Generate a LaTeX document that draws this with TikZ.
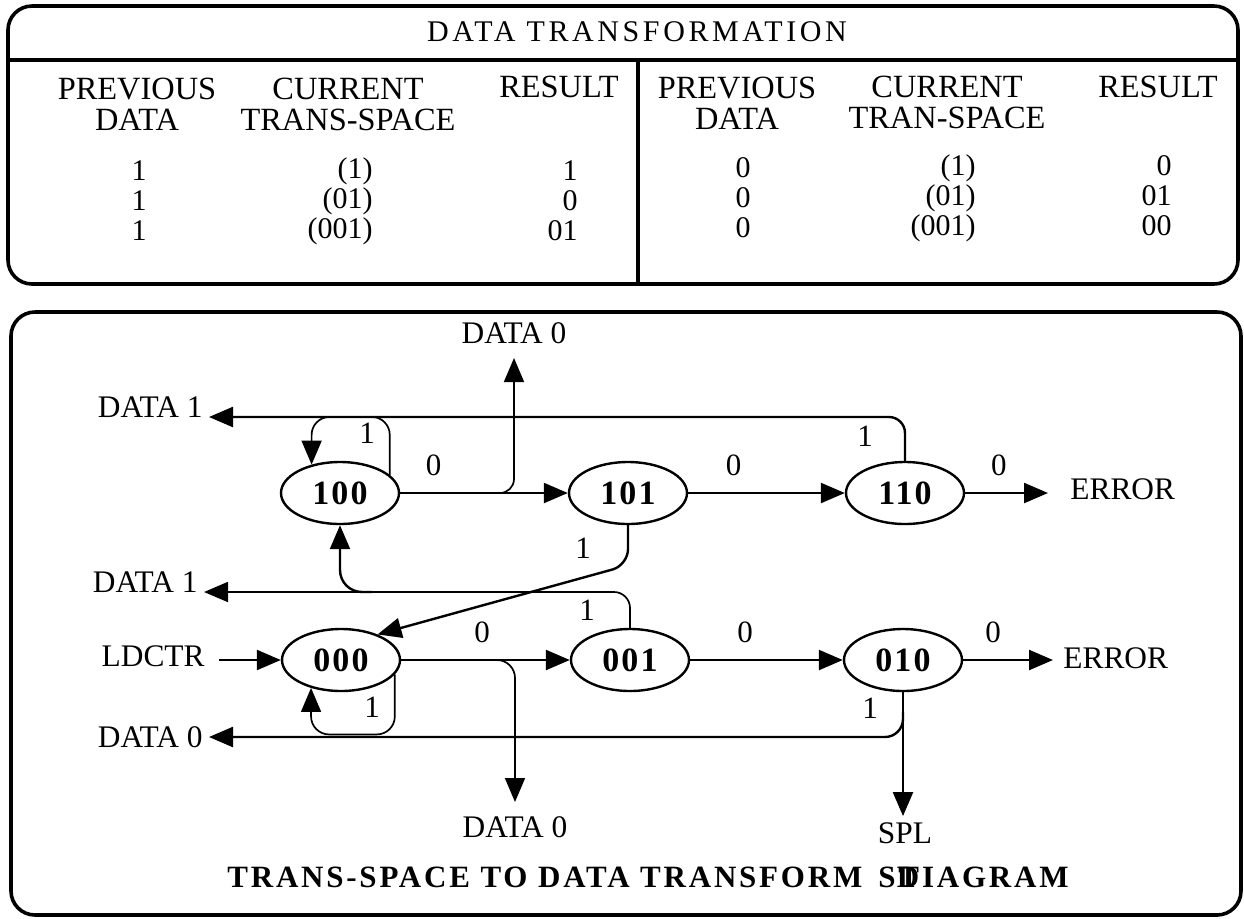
\documentclass[tikz,border=0pt]{standalone}
\usepackage{fontspec}
\setmainfont{Liberation Serif}
\usepackage{tikz}
\usetikzlibrary{shapes, arrows.meta, positioning}
\tikzset{
  statenode/.style={draw, ellipse, line width=1.2pt, minimum width=59pt, minimum height=31pt, inner sep=0pt, font=\fontsize{17}{17}\selectfont\bfseries\addfontfeature{LetterSpace=6}},
  textnode/.style={font=\fontsize{15.7}{18}\selectfont, inner sep=3pt},
  headnode/.style={font=\fontsize{16.2}{15.5}\selectfont, align=center, inner sep=0pt},
  rownode/.style={font=\fontsize{15}{15}\selectfont, inner sep=0pt},
  bitnode/.style={font=\fontsize{15.5}{15.5}\selectfont, inner sep=2pt},
  captionnode/.style={font=\fontsize{15.5}{17}\selectfont\bfseries\addfontfeature{LetterSpace=9}, inner sep=0pt},
  arrow/.style={-{Triangle[length=12pt,width=10pt]}, line width=1.2pt},
  thinarrow/.style={-{Triangle[length=12pt,width=10pt]}, line width=0.85pt},
  panel/.style={draw, line width=1.8pt, rounded corners=12pt}
}

\begin{document}
\begin{tikzpicture}[x=0.5pt, y=-0.5pt]
\useasboundingbox (0,0) rectangle (1244,918);

% Table
\draw[panel] (8,6) rectangle (1238,284);
\draw[line width=1.8pt] (8,60) -- (1238,60);
\draw[line width=1.8pt] (638,60) -- (638,284);
\node[textnode, font=\fontsize{15}{18}\selectfont\addfontfeature{LetterSpace=12}] (title) at (637,32) {DATA TRANSFORMATION};

\node[headnode] (prevL) at (137,104) {PREVIOUS\\DATA};
\node[headnode] (currL) at (348,104) {CURRENT\\TRANS-SPACE};
\node[headnode] (resL) at (559,87) {RESULT};
\node[headnode] (prevR) at (737,103) {PREVIOUS\\DATA};
\node[headnode] (currR) at (947,102) {CURRENT\\TRAN-SPACE};
\node[headnode] (resR) at (1158,87) {RESULT};

\node[rownode, align=center] (prevvalL) at (139,201) {1\\1\\1};
\node[rownode, align=right, anchor=east] (transvalL) at (373,201) {(1)\\(01)\\(001)};
\node[rownode, align=right, anchor=east] (resvalL) at (578,201) {1\\0\\01};
\node[rownode, align=center] (prevvalR) at (743,198) {0\\0\\0};
\node[rownode, align=right, anchor=east] (transvalR) at (976,198) {(1)\\(01)\\(001)};
\node[rownode, align=right, anchor=east] (resvalR) at (1172,196) {0\\01\\00};

% Diagram
\draw[panel] (11,312) rectangle (1241,915);

% Nodes
\node[statenode] (s100) at (340,493) {100};
\node[statenode] (s101) at (628,493) {101};
\node[statenode] (s110) at (905,493) {110};
\node[statenode] (s000) at (341,660) {000};
\node[statenode] (s001) at (630,660) {001};
\node[statenode] (s010) at (903,660) {010};

\node[textnode, anchor=base east] (dataA) at (209,417) {DATA 1};
\node[textnode, anchor=base east] (dataB) at (204,592) {DATA 1};
\node[textnode, anchor=east] (dataC) at (209,737) {DATA 0};
\node[textnode] (dzeroT) at (514,333) {DATA 0};
\node[textnode] (dzeroB) at (515,827) {DATA 0};
\node[textnode, anchor=east] (ldctr) at (211,656) {LDCTR};
\node[textnode, anchor=west] (errA) at (1064,489) {ERROR};
\node[textnode, anchor=west] (errB) at (1057,658) {ERROR};
\node[textnode] (spl) at (905,833) {SPL};

\coordinate (j1) at (500,493);
\coordinate (j2) at (372,592);
\coordinate (j3) at (493,660);
\coordinate[below=10pt of s010] (j4);

% Connections
\draw[arrow] (s100) -- node[bitnode, pos=0.2, above=6pt] {0} (s101);
\draw[thinarrow, rounded corners=7pt, shorten >=4pt] (j1) -| (dzeroT.south);
\draw[arrow] (s101) -- node[bitnode, pos=0.29, above=6pt] {0} (s110);
\draw[arrow, shorten >=8pt] (s110) -- node[bitnode, pos=0.34, above=6pt] {0} (s110.east -| errA.west);
\draw[arrow, rounded corners=8pt] (s110.north) |- (dataA.base east);
\draw[thinarrow, rounded corners=9pt] (s100.20) -- ++(0,-58) -| (s100.135);

\draw[thinarrow, rounded corners=8pt] (s001.north) |- (dataB.base east);
\draw[arrow, rounded corners=11pt] (j2) -| (s100.south);
\draw[arrow, rounded corners=8pt] (s101.south) -- ++(0,40) -- (s000.35);

\draw[arrow, shorten <=4pt] (ldctr.east |- s000) -- (s000);
\draw[arrow] (s000) -- node[bitnode, pos=0.48, above=6pt] {0} (s001);
\draw[thinarrow, rounded corners=9pt, shorten >=4pt] (j3) -| (dzeroB.north);
\draw[arrow] (s001) -- node[bitnode, pos=0.36, above=6pt] {0} (s010);
\draw[arrow, shorten >=2pt] (s010) -- node[bitnode, pos=0.32, above=6pt] {0} (s010.east -| errB.west);
\draw[thinarrow, rounded corners=9pt] (s000.-15) -- ++(0,60) -| (s000.-137);
\draw[arrow] (s010.south) -- (s010.south |- spl.north);
\draw[arrow, rounded corners=9pt] (j4) |- (dataC.east);

% Labels
\node[bitnode] (oneA) at (367,433) {1};
\node[bitnode] (oneB) at (865,436) {1};
\node[bitnode] (oneC) at (583,548) {1};
\node[bitnode] (oneD) at (587,610) {1};
\node[bitnode] (oneE) at (372,707) {1};
\node[bitnode] (oneF) at (870,708) {1};

\node[captionnode, anchor=west] (capA) at (227,877) {TRANS-SPACE TO DATA TRANSFORM};
\node[captionnode, anchor=west] (capB) at (878,877) {ST};
\node[captionnode, anchor=east] (capC) at (1069,877) {DIAGRAM};

\end{tikzpicture}
\end{document}
